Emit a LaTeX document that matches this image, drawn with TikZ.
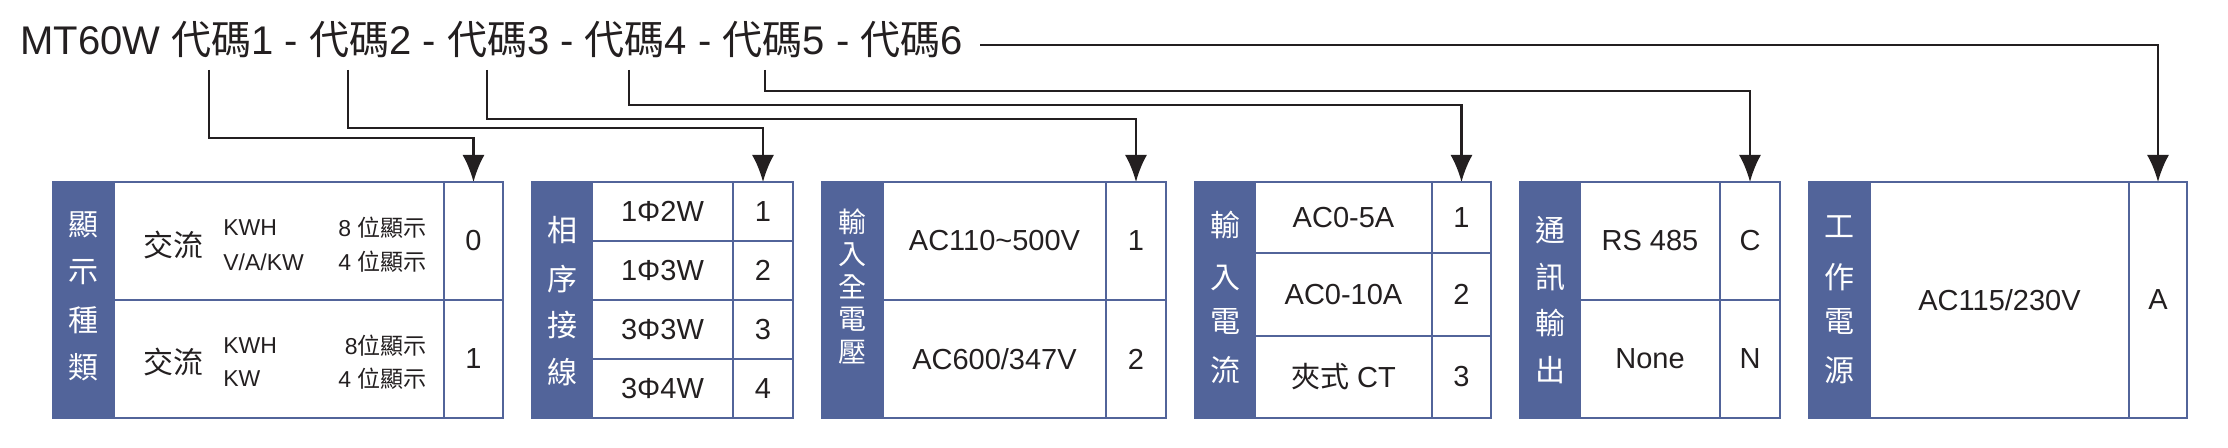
\documentclass[tikz,border=0pt]{standalone}
\usepackage{fontspec}
\setmainfont{Liberation Sans}
\newfontfamily\cjk{Noto Sans CJK TC}
\usetikzlibrary{arrows.meta}
\definecolor{hdr}{HTML}{52649A}
\definecolor{ink}{HTML}{231F20}
\tikzset{
  conn/.style={draw=ink,line width=1.1pt,-{Latex[length=13.5pt,width=11pt]}},
  frame/.style={draw=hdr,line width=1pt},
  hdrbox/.style={fill=hdr,draw=hdr,line width=1pt},
  lab/.style={text=white,font=\cjk\fontsize{15}{15}\selectfont,inner sep=0pt},
  txt/.style={text=ink,font=\fontsize{14.5}{16}\selectfont,inner sep=0pt},
  sml/.style={text=ink,font=\fontsize{11.5}{13}\selectfont,inner sep=0pt},
}
\begin{document}
\begin{tikzpicture}[x=0.5pt,y=-0.5pt]
\useasboundingbox (0,0) rectangle (2228,448);
\node[anchor=base west,inner sep=0pt,text=ink,font=\fontsize{20}{20}\selectfont] (title) at (20,55)
 {MT60W {\cjk 代碼}1 - {\cjk 代碼}2 - {\cjk 代碼}3 - {\cjk 代碼}4 - {\cjk 代碼}5 - {\cjk 代碼}6};
% start coordinates
\coordinate (c1) at (209,70); \coordinate (c2) at (348,70); \coordinate (c3) at (487,70);
\coordinate (c4) at (629,70); \coordinate (c5) at (765,70); \coordinate (c6) at (980,45);
% targets
\coordinate (t1) at (473.5,182); \coordinate (t2) at (763,182); \coordinate (t3) at (1136,182);
\coordinate (t4) at (1461.5,182); \coordinate (t5) at (1750,182); \coordinate (t6) at (2158,182);
\draw[conn] (c1) |- (473.5,138) -- (t1);
\draw[conn] (c2) |- (763,128) -- (t2);
\draw[conn] (c3) |- (1136,119) -- (t3);
\draw[conn] (c4) |- (1461.5,105) -- (t4);
\draw[conn] (c5) |- (1750,91) -- (t5);
\draw[conn] (c6) -- (2158,45) -- (t6);
% ---------- box 1
\draw[hdrbox] (53,182) rectangle (114,418);
\draw[frame] (114,182) rectangle (503,418);
\draw[frame] (444,182) -- (444,418) (114,300) -- (503,300);
\foreach \c/\y in {顯/225,示/272,種/320,類/367} \node[lab] at (83.5,\y) {\c};
\node[txt,font=\cjk\fontsize{15}{16}\selectfont] (b1a) at (173,245) {交流};
\node[txt,font=\cjk\fontsize{15}{16}\selectfont] (b1b) at (173,362) {交流};
\node[sml,anchor=west] at (223,228) {KWH};
\node[sml,anchor=east] at (427,228) {8 {\cjk 位顯示}};
\node[sml,anchor=west] at (223,262) {V/A/KW};
\node[sml,anchor=east] at (427,262) {4 {\cjk 位顯示}};
\node[sml,anchor=west] at (223,346) {KWH};
\node[sml,anchor=east] at (427,346) {8{\cjk 位顯示}};
\node[sml,anchor=west] at (223,379) {KW};
\node[sml,anchor=east] at (427,379) {4 {\cjk 位顯示}};
\node[txt] at (473.5,241) {0};
\node[txt] at (473.5,359) {1};
% ---------- box 2
\draw[hdrbox] (532,182) rectangle (592,418);
\draw[frame] (592,182) rectangle (793,418);
\draw[frame] (733,182) -- (733,418) (592,241) -- (793,241) (592,300) -- (793,300) (592,359) -- (793,359);
\foreach \c/\y in {相/230,序/279,接/325,線/372} \node[lab] at (562,\y) {\c};
\foreach \t/\n/\y in {1Φ2W/1/211.5,1Φ3W/2/270.5,3Φ3W/3/329.5,3Φ4W/4/388.5}{
  \node[txt] at (662.5,\y) {\t}; \node[txt] at (763,\y) {\n};}
% ---------- box 3
\draw[hdrbox] (822,182) rectangle (883,418);
\draw[frame] (883,182) rectangle (1166,418);
\draw[frame] (1106,182) -- (1106,418) (883,300) -- (1166,300);
\foreach \c/\y in {輸/222,入/255,全/287,電/319,壓/352} \node[lab,font=\cjk\fontsize{14}{14}\selectfont] at (852.5,\y) {\c};
\node[txt] at (994.5,241) {AC110\textasciitilde 500V}; \node[txt] at (1136,241) {1};
\node[txt] at (994.5,359) {AC600/347V}; \node[txt] at (1136,359) {2};
% ---------- box 4
\draw[hdrbox] (1195,182) rectangle (1255,418);
\draw[frame] (1255,182) rectangle (1491,418);
\draw[frame] (1432,182) -- (1432,418) (1255,253) -- (1491,253) (1255,336) -- (1491,336);
\foreach \c/\y in {輸/225,入/278,電/322,流/370} \node[lab] at (1225,\y) {\c};
\node[txt] at (1343.5,218) {AC0-5A}; \node[txt] at (1461.5,218) {1};
\node[txt] at (1343.5,294.5) {AC0-10A}; \node[txt] at (1461.5,294.5) {2};
\node[txt] at (1343.5,377) {{\cjk 夾式} CT}; \node[txt] at (1461.5,377) {3};
% ---------- box 5
\draw[hdrbox] (1520,182) rectangle (1580,418);
\draw[frame] (1580,182) rectangle (1780,418);
\draw[frame] (1720,182) -- (1720,418) (1580,300) -- (1780,300);
\foreach \c/\y in {通/230,訊/277,輸/323,出/370} \node[lab] at (1550,\y) {\c};
\node[txt] at (1650,241) {RS 485}; \node[txt] at (1750,241) {C};
\node[txt] at (1650,359) {None}; \node[txt] at (1750,359) {N};
% ---------- box 6
\draw[hdrbox] (1809,182) rectangle (1870,418);
\draw[frame] (1870,182) rectangle (2187,418);
\draw[frame] (2129,182) -- (2129,418);
\foreach \c/\y in {工/227,作/277,電/322,源/370} \node[lab] at (1839.5,\y) {\c};
\node[txt] at (1999.5,300) {AC115/230V}; \node[txt] at (2158,300) {A};
\end{tikzpicture}
\end{document}
